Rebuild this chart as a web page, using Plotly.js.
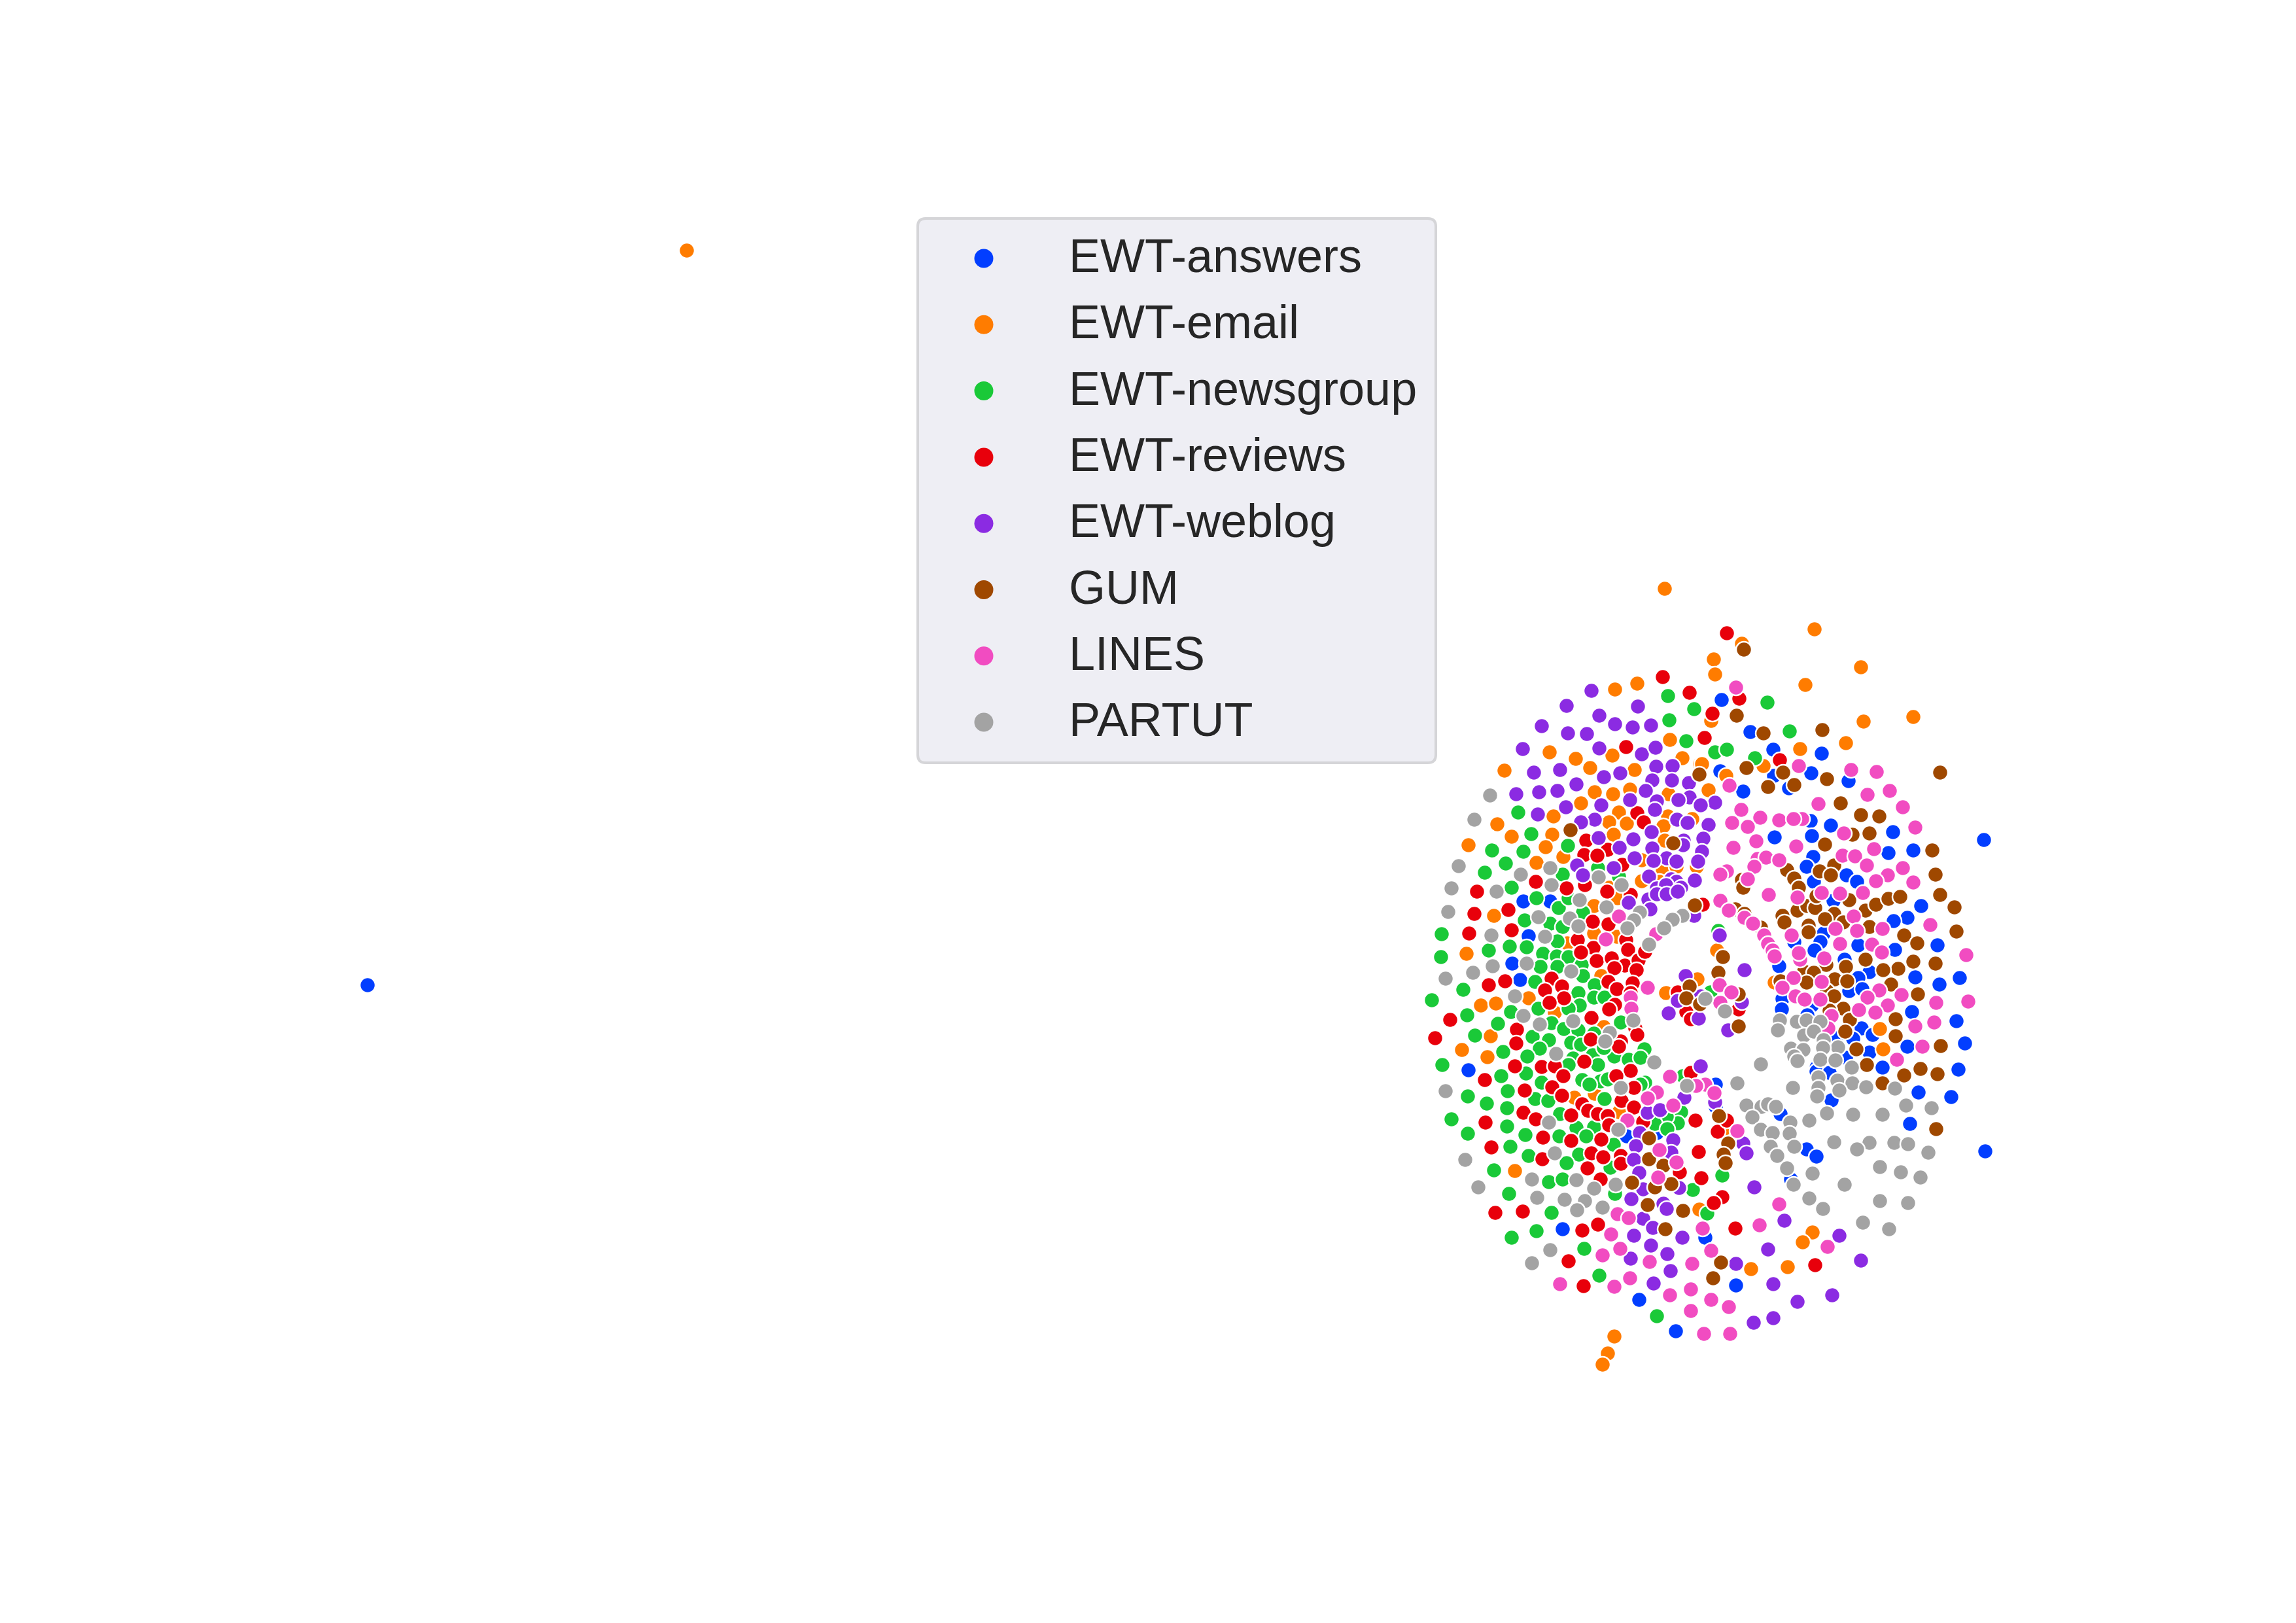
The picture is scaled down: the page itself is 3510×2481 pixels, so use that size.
<!DOCTYPE html>
<html>
<head>
<meta charset="utf-8">
<title>Scatter</title>
<script src="https://cdn.plot.ly/plotly-3.0.1.min.js"></script>
<style>
    body { margin: 0; background: white; }
</style>
</head>
<body>
<div id="graph"></div>
<script>
// axes are hidden in the picture, so values are in the picture's own units
const seriesNames = ["EWT-answers", "EWT-email", "EWT-newsgroup", "EWT-reviews", "EWT-weblog", "GUM", "LINES", "PARTUT"];
const seriesColors = ["#023EFF", "#FF7C00", "#1AC938", "#E8000B", "#8B2BE2", "#9F4800", "#F14CC1", "#A3A3A3"];

const ewtAnswers = [[562,1506],[3033,1284],[3035,1760],[2632,1070],[2676,1119],[2711,1146],[2630,1179],[2712,1186],[2769,1182],[2785,1152],[2665,1210],[2826,1194],[2735,1205],[2768,1255],[2799,1262],[2713,1280],[2770,1278],[2894,1272],[2887,1304],[2925,1300],[2772,1310],[2762,1325],[2823,1338],[2839,1348],[2773,1348],[2937,1385],[2916,1403],[2895,1408],[2803,1377],[2962,1445],[2897,1452],[2788,1427],[2841,1445],[2783,1440],[2774,1453],[2743,1440],[2720,1477],[2820,1467],[2858,1486],[2841,1495],[2928,1494],[2965,1505],[2996,1495],[2827,1515],[2847,1512],[2725,1527],[2724,1543],[2770,1537],[2923,1547],[2991,1561],[2763,1552],[2846,1572],[2807,1587],[2833,1588],[2863,1582],[2916,1600],[3004,1595],[2858,1609],[2822,1617],[2878,1632],[2777,1632],[2777,1638],[2797,1640],[2994,1635],[2933,1670],[2983,1677],[2800,1682],[2722,1703],[2920,1718],[2762,1757],[2777,1768],[2738,1803],[2623,1658],[2623,1692],[2329,1378],[2370,1378],[2337,1431],[2312,1473],[2324,1498],[2245,1636],[2487,1737],[2533,1732],[2389,1879],[2506,1987],[2562,2035],[2607,1892],[2654,1965]];

const ewtEmail = [[1050,383],[2545,900],[2469,1054],[2503,1045],[2553,1131],[2369,1150],[2465,1155],[2409,1160],[2431,1174],[2499,1177],[2300,1178],[2572,1159],[2599,1168],[2492,1207],[2551,1214],[2438,1211],[2466,1214],[2417,1228],[2475,1242],[2375,1248],[2460,1257],[2487,1259],[2289,1260],[2550,1248],[2587,1252],[2543,1263],[2311,1279],[2373,1276],[2467,1276],[2545,1285],[2245,1292],[2363,1295],[2390,1310],[2349,1319],[2510,1315],[2542,1331],[2563,1325],[2594,1325],[2537,1348],[2510,1347],[2460,1357],[2620,1008],[2622,1031],[2663,984],[2774,962],[2845,1020],[2760,1047],[2616,1102],[2849,1103],[2925,1096],[2822,1136],[2752,1145],[2696,1171],[2639,1186],[2612,1208],[2602,1168],[2284,1400],[2242,1458],[2473,1373],[2437,1385],[2437,1427],[2472,1432],[2396,1442],[2448,1492],[2264,1537],[2287,1534],[2337,1526],[2377,1548],[2279,1584],[2235,1605],[2274,1616],[2547,1518],[2595,1497],[2452,1570],[2407,1678],[2438,1672],[2475,1700],[2316,1790],[2625,1453],[2713,1502],[2874,1573],[2879,1604],[2637,1725],[2598,1849],[2771,1884],[2756,1899],[2677,1940],[2733,1937],[2468,2043],[2458,2069],[2450,2086]];

const ewtNewsgroup = [[2550,1064],[2590,1084],[2552,1101],[2578,1133],[2622,1150],[2640,1146],[2321,1242],[2341,1275],[2281,1300],[2329,1302],[2397,1293],[2302,1320],[2270,1334],[2389,1337],[2311,1357],[2443,1327],[2475,1340],[2702,1074],[2736,1118],[2683,1159],[2349,1373],[2383,1388],[2420,1395],[2398,1373],[2331,1407],[2370,1412],[2389,1417],[2204,1428],[2381,1439],[2276,1453],[2308,1447],[2334,1448],[2359,1458],[2203,1463],[2380,1462],[2398,1463],[2355,1478],[2381,1478],[2418,1475],[2420,1492],[2347,1501],[2237,1513],[2413,1518],[2438,1506],[2189,1529],[2437,1525],[2453,1525],[2415,1537],[2398,1542],[2310,1547],[2352,1542],[2243,1552],[2290,1565],[2372,1564],[2391,1573],[2413,1575],[2437,1580],[2478,1563],[2255,1583],[2343,1585],[2368,1590],[2402,1594],[2417,1597],[2514,1604],[2354,1603],[2298,1608],[2335,1615],[2405,1618],[2435,1613],[2468,1615],[2452,1602],[2490,1620],[2508,1617],[2205,1628],[2398,1628],[2443,1628],[2573,1645],[2295,1645],[2333,1641],[2419,1651],[2357,1655],[2447,1653],[2458,1650],[2430,1658],[2515,1655],[2508,1658],[2305,1668],[2244,1676],[2273,1687],[2347,1680],[2367,1683],[2453,1680],[2304,1694],[2570,1700],[2385,1703],[2219,1711],[2565,1717],[2548,1707],[2530,1718],[2549,1726],[2304,1722],[2410,1724],[2437,1723],[2244,1733],[2332,1735],[2384,1737],[2425,1737],[2467,1750],[2309,1753],[2414,1765],[2337,1767],[2395,1778],[2462,1785],[2284,1789],[2633,1797],[2368,1807],[2389,1803],[2469,1825],[2588,1819],[2307,1825],[2372,1854],[2610,1855],[2627,1423],[2615,1517],[2349,1882],[2311,1892],[2422,1909],[2445,1950],[2533,2012]];

const ewtReviews = [[2640,968],[2542,1035],[2583,1059],[2618,1091],[2606,1128],[2486,1142],[2659,1068],[2721,1162],[2503,1243],[2513,1257],[2425,1285],[2458,1299],[2422,1307],[2442,1308],[2480,1322],[2348,1348],[2258,1363],[2395,1358],[2423,1353],[2457,1363],[2493,1368],[2603,1383],[2254,1397],[2306,1391],[2435,1409],[2459,1413],[2311,1422],[2246,1427],[2412,1437],[2486,1437],[2436,1449],[2489,1452],[2417,1456],[2441,1469],[2464,1465],[2484,1476],[2505,1468],[2515,1455],[2468,1480],[2502,1483],[2372,1496],[2276,1506],[2301,1500],[2459,1501],[2496,1503],[2388,1508],[2472,1512],[2362,1514],[2493,1518],[2391,1526],[2369,1533],[2469,1536],[2460,1543],[2217,1559],[2433,1556],[2500,1572],[2319,1574],[2503,1582],[2194,1587],[2432,1589],[2478,1592],[2318,1595],[2475,1600],[2422,1623],[2316,1630],[2357,1631],[2377,1630],[2493,1637],[2585,1640],[2390,1645],[2471,1645],[2270,1651],[2498,1663],[2373,1662],[2331,1667],[2388,1675],[2479,1683],[2419,1688],[2428,1698],[2498,1693],[2329,1701],[2443,1703],[2458,1706],[2348,1711],[2402,1705],[2592,1713],[2512,1715],[2271,1716],[2460,1720],[2626,1730],[2640,1713],[2359,1739],[2402,1744],[2448,1742],[2433,1763],[2280,1754],[2597,1761],[2451,1769],[2478,1767],[2358,1772],[2478,1779],[2427,1786],[2568,1792],[2601,1801],[2447,1803],[2633,1830],[2620,1839],[2286,1854],[2328,1852],[2419,1881],[2443,1872],[2398,1928],[2421,1966],[2653,1878],[2775,1934],[2658,1543],[2578,1547],[2585,1558],[2565,1517]];

const ewtWeblog = [[2433,1056],[2395,1079],[2504,1080],[2445,1094],[2469,1107],[2496,1112],[2524,1109],[2357,1110],[2397,1121],[2426,1122],[2445,1144],[2510,1153],[2531,1143],[2328,1145],[2532,1172],[2557,1171],[2345,1181],[2385,1177],[2477,1182],[2452,1188],[2526,1193],[2556,1193],[2582,1197],[2410,1199],[2318,1214],[2353,1211],[2381,1209],[2516,1209],[2583,1219],[2492,1223],[2533,1225],[2566,1223],[2622,1227],[2600,1231],[2448,1231],[2394,1234],[2530,1238],[2351,1245],[2438,1253],[2564,1253],[2580,1258],[2612,1261],[2417,1257],[2525,1272],[2444,1281],[2497,1283],[2604,1282],[2574,1285],[2573,1292],[2476,1296],[2526,1297],[2602,1302],[2499,1312],[2548,1312],[2528,1316],[2563,1317],[2596,1317],[2411,1323],[2467,1327],[2420,1338],[2521,1340],[2555,1344],[2563,1348],[2591,1346],[2533,1358],[2570,1357],[2547,1353],[2490,1380],[2520,1375],[2533,1367],[2548,1367],[2565,1363],[2523,1390],[2590,1400],[2629,1430],[2577,1492],[2565,1530],[2600,1523],[2551,1549],[2597,1557],[2642,1575],[2600,1630],[2667,1483],[2663,1532],[2575,1678],[2519,1701],[2538,1697],[2507,1732],[2501,1752],[2558,1743],[2555,1762],[2498,1773],[2506,1793],[2512,1818],[2567,1816],[2494,1833],[2543,1840],[2548,1848],[2622,1685],[2512,1863],[2527,1877],[2498,1889],[2572,1892],[2524,1904],[2549,1917],[2493,1924],[2554,1943],[2528,1962],[2654,1932],[2665,1748],[2670,1763],[2682,1815],[2728,1866],[2812,1889],[2703,1910],[2845,1927],[2711,1963],[2801,1980],[2748,1990],[2681,2022],[2711,2015]];

const gum = [[2401,1269],[2598,1184],[2558,1289],[2666,993],[2655,1094],[2696,1121],[2786,1116],[2670,1174],[2726,1181],[2703,1203],[2743,1200],[2793,1191],[2966,1181],[2814,1228],[2845,1246],[2873,1248],[2832,1276],[2858,1274],[2790,1291],[2954,1300],[2959,1337],[2732,1330],[2743,1343],[2804,1323],[2782,1332],[2799,1338],[2663,1345],[2665,1357],[2750,1357],[2653,1390],[2667,1397],[2692,1418],[2725,1400],[2728,1410],[2748,1392],[2763,1385],[2775,1388],[2777,1370],[2827,1376],[2804,1397],[2790,1405],[2765,1415],[2765,1425],[2818,1410],[2852,1392],[2868,1383],[2887,1374],[2905,1371],[2966,1368],[2988,1387],[2858,1417],[2991,1424],[2911,1430],[2931,1442],[2852,1467],[2925,1470],[2959,1473],[2902,1481],[2879,1483],[2822,1478],[2792,1475],[2758,1485],[2773,1487],[2762,1502],[2805,1497],[2824,1500],[2891,1505],[2932,1520],[2658,1520],[2793,1515],[2804,1523],[2818,1542],[2797,1545],[2898,1558],[2828,1559],[2658,1569],[2821,1577],[2898,1584],[2967,1599],[2838,1604],[2854,1628],[2936,1634],[2911,1644],[2962,1642],[2878,1656],[2960,1726],[2634,1463],[2627,1487],[2722,1500],[2628,1706],[2642,1748],[2635,1765],[2638,1778],[2591,1384],[2583,1508],[2578,1526],[2599,1535],[2521,1740],[2521,1772],[2543,1782],[2495,1808],[2555,1810],[2530,1815],[2519,1842],[2573,1851],[2546,1879],[2631,1930],[2619,1954]];

const lines = [[2654,1051],[2750,1171],[2830,1177],[2869,1180],[2644,1201],[2855,1215],[2889,1209],[2780,1229],[2909,1234],[2662,1238],[2648,1258],[2691,1250],[2672,1264],[2720,1254],[2755,1252],[2742,1252],[2928,1265],[2819,1274],[2685,1286],[2650,1296],[2746,1294],[2865,1298],[2817,1308],[2836,1309],[2687,1313],[2700,1311],[2720,1315],[2682,1325],[2854,1323],[2909,1327],[2640,1332],[2630,1337],[2886,1338],[2672,1344],[2868,1347],[2925,1349],[2704,1368],[2785,1365],[2813,1366],[2848,1365],[2748,1372],[2630,1377],[2643,1392],[2834,1401],[2667,1403],[2680,1412],[2806,1420],[2878,1420],[2951,1414],[2839,1423],[2697,1430],[2739,1430],[2813,1443],[2862,1444],[2703,1443],[2877,1456],[2710,1453],[2713,1462],[3006,1460],[2752,1467],[2789,1465],[2750,1457],[2629,1506],[2742,1495],[2785,1501],[2725,1510],[2647,1517],[2873,1514],[2907,1521],[2855,1525],[2745,1523],[2759,1528],[2783,1528],[2630,1533],[2960,1533],[3009,1531],[2886,1537],[2842,1544],[2867,1548],[2800,1553],[2957,1563],[2928,1569],[2795,1572],[2939,1600],[2900,1620],[2607,1658],[2621,1671],[2656,1729],[2720,1841],[2475,1401],[2455,1436],[2532,1428],[2519,1510],[2493,1525],[2494,1542],[2553,1646],[2593,1660],[2533,1670],[2519,1679],[2558,1690],[2488,1713],[2537,1758],[2563,1777],[2535,1800],[2473,1856],[2490,1862],[2603,1878],[2463,1887],[2477,1909],[2450,1919],[2616,1912],[2522,1929],[2587,1932],[2492,1954],[2385,1963],[2468,1967],[2585,1971],[2553,1980],[2616,1987],[2585,2004],[2643,1998],[2605,2039],[2645,2039],[2690,1873],[2794,1906]];

const partut = [[2278,1216],[2254,1253],[2230,1324],[2370,1327],[2325,1337],[2444,1341],[2219,1358],[2288,1363],[2372,1353],[2479,1353],[2415,1376],[2456,1387],[2214,1394],[2572,1400],[2557,1406],[2352,1402],[2507,1395],[2498,1407],[2400,1404],[2413,1416],[2544,1419],[2488,1419],[2280,1430],[2362,1432],[2521,1444],[2334,1473],[2282,1477],[2402,1485],[2252,1487],[2210,1496],[2316,1523],[2607,1527],[2637,1546],[2329,1553],[2405,1561],[2354,1566],[2497,1560],[2461,1579],[2454,1592],[2379,1611],[2529,1624],[2579,1660],[2478,1663],[2210,1668],[2368,1716],[2474,1727],[2377,1763],[2240,1773],[2342,1803],[2410,1804],[2437,1817],[2470,1811],[2260,1815],[2350,1831],[2392,1834],[2423,1836],[2450,1846],[2411,1850],[2370,1911],[2342,1931],[2721,1560],[2718,1575],[2747,1562],[2762,1560],[2783,1562],[2758,1583],[2773,1577],[2788,1590],[2810,1601],[2738,1603],[2757,1605],[2787,1602],[2783,1620],[2806,1621],[2743,1615],[2748,1622],[2692,1627],[2831,1632],[2656,1656],[2809,1652],[2832,1656],[2853,1662],[2897,1664],[2741,1663],[2780,1647],[2780,1663],[2812,1667],[2778,1676],[2670,1690],[2914,1690],[2953,1694],[2693,1692],[2703,1688],[2715,1692],[2679,1708],[2793,1702],[2833,1704],[2878,1704],[2737,1716],[2766,1713],[2692,1727],[2710,1732],[2736,1733],[2707,1753],[2743,1753],[2804,1746],[2858,1747],[2839,1757],[2896,1747],[2917,1749],[2948,1762],[2717,1767],[2874,1784],[2906,1792],[2936,1800],[2732,1786],[2771,1794],[2742,1811],[2820,1811],[2766,1832],[2874,1836],[2917,1839],[2787,1848],[2848,1869],[2888,1879]];

const seriesPoints = [ewtAnswers, ewtEmail, ewtNewsgroup, ewtReviews, ewtWeblog, gum, lines, partut];

let traces = [];
for (let i = 0; i < seriesNames.length; i++) {
    traces.push({
        x: seriesPoints[i].map(p => p[0]),
        y: seriesPoints[i].map(p => p[1]),
        type: "scatter",
        mode: "markers",
        name: seriesNames[i],
        hoverinfo: "skip",
        marker: { size: 24, color: seriesColors[i], line: { color: "white", width: 2.5 } }
    });
}

// plotly caps legend markers at 16px and has no rounded box, so the legend is drawn by hand
const legendKeyX = 1504;
const legendTextX = 1633;
const legendTop = 395;
const legendStep = 101.3;

traces.push({
    x: seriesNames.map(() => legendKeyX),
    y: seriesNames.map((name, i) => legendTop + i * legendStep),
    type: "scatter",
    mode: "markers",
    hoverinfo: "skip",
    marker: { size: 29, color: seriesColors, line: { width: 0 } }
});

let legendLabels = seriesNames.map((name, i) => ({
    x: legendTextX,
    y: legendTop + i * legendStep,
    xref: "x",
    yref: "y",
    yshift: 4,
    text: name,
    showarrow: false,
    xanchor: "left",
    yanchor: "middle",
    borderpad: 0,
    font: { size: 72, color: "#262626" }
}));

let layout = {
    width: 3510,
    height: 2481,
    margin: { l: 0, r: 0, t: 0, b: 0 },
    paper_bgcolor: "white",
    plot_bgcolor: "white",
    showlegend: false,
    xaxis: { range: [0, 3510], visible: false, fixedrange: true },
    yaxis: { range: [2481, 0], visible: false, fixedrange: true },
    font: { family: "Liberation Sans, Arial, sans-serif", color: "#262626" },
    annotations: legendLabels,
    shapes: [{
        type: "path",
        xref: "x",
        yref: "y",
        layer: "below",
        path: "M1415,334 H2183 Q2195,334 2195,346 V1154 Q2195,1166 2183,1166 H1415 Q1403,1166 1403,1154 V346 Q1403,334 1415,334 Z",
        fillcolor: "#EEEEF4",
        line: { color: "#D5D5D8", width: 4 }
    }]
};

Plotly.newPlot("graph", traces, layout, { displayModeBar: false, staticPlot: true });
</script>
</body>
</html>
